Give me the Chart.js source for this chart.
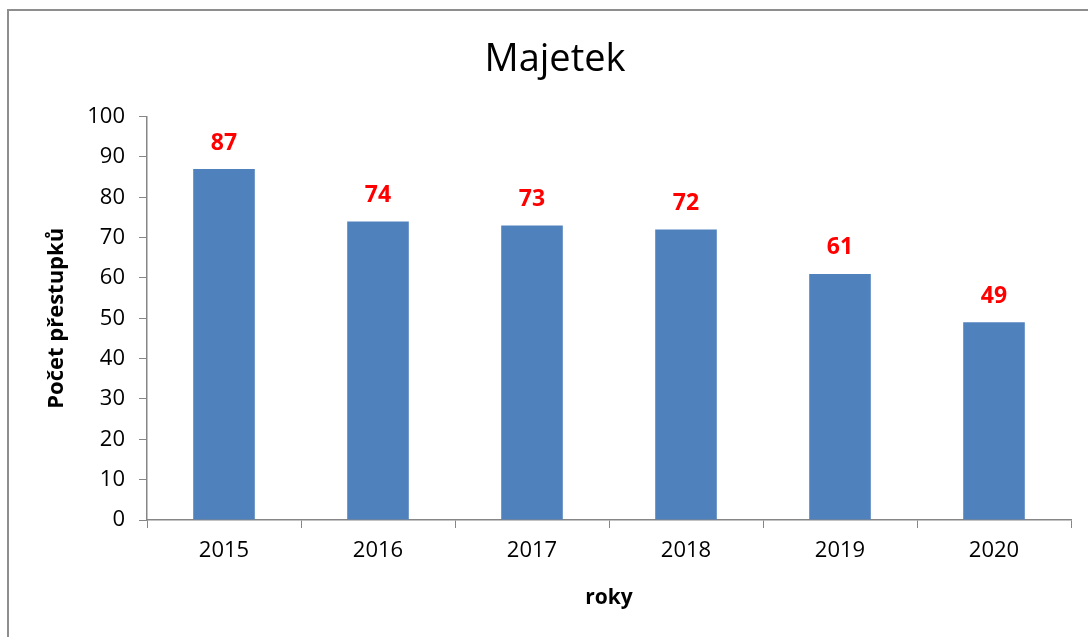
<!DOCTYPE html>
<html><head><meta charset="utf-8">
<script src="https://cdn.jsdelivr.net/npm/chart.js@4/dist/chart.umd.min.js"></script>
<style>
html,body{margin:0;padding:0;background:#fff;overflow:hidden;width:1088px;height:637px;}
#frame{position:absolute;left:7px;top:9px;width:2000px;height:2000px;border:2px solid #8e8e8e;}
#wrap{position:absolute;left:0;top:0;width:1110px;height:637px;}
</style></head><body>
<div id="frame"></div>
<div id="wrap"><canvas id="c" width="1110" height="637"></canvas></div>
<script>
const categories = ['2015','2016','2017','2018','2019','2020'];
const values = [87, 74, 73, 72, 61, 49];
const yTicks = [0,10,20,30,40,50,60,70,80,90,100];
const FONT = "'Open Sans', 'Noto Sans', sans-serif";

const labelPlugin = {
  id: 'barLabels',
  afterDatasetsDraw(chart) {
    const ctx = chart.ctx;
    const meta = chart.getDatasetMeta(0);
    ctx.save();
    ctx.fillStyle = '#ff0000';
    ctx.font = "bold 23px " + FONT;
    ctx.textAlign = 'center';
    ctx.textBaseline = 'middle';
    meta.data.forEach((bar, i) => {
      ctx.fillText(String(values[i]), bar.x, bar.y - 26);
    });
    ctx.restore();
  }
};

new Chart(document.getElementById('c'), {
  type: 'bar',
  data: {
    labels: categories,
    datasets: [{
      data: values,
      backgroundColor: '#4f81bd',
      borderWidth: 0,
      categoryPercentage: 1.0,
      barPercentage: 0.4
    }]
  },
  options: {
    responsive: false,
    animation: false,
    layout: { padding: { left: 39, right: 39, top: 0, bottom: 0 } },
    plugins: {
      legend: { display: false },
      tooltip: { enabled: false },
      title: {
        display: true,
        text: 'Majetek',
        color: '#000',
        font: { family: FONT, size: 38, weight: 'normal' },
        padding: { top: 37, bottom: 34 }
      }
    },
    scales: {
      x: {
        grid: { display: true, drawOnChartArea: false, drawTicks: true, tickLength: 8, color: '#868686', offset: true },
        border: { display: true, color: '#868686', width: 1.5 },
        ticks: { color: '#000', font: { family: FONT, size: 22 }, padding: 10 },
        title: { display: true, text: 'roky', color: '#000', font: { family: FONT, size: 21, weight: 'bold' }, padding: { top: 10, bottom: 26 } },
        afterFit(scale) { scale.height = 117; }
      },
      y: {
        min: 0, max: 100,
        afterBuildTicks(scale) { scale.ticks = yTicks.map(v => ({ value: v })); },
        grid: { display: true, drawOnChartArea: false, drawTicks: true, tickLength: 8, color: '#868686' },
        border: { display: true, color: '#868686', width: 1.5 },
        ticks: { color: '#000', font: { family: FONT, size: 22 }, padding: 14 },
        title: { display: true, text: 'Počet přestupků', color: '#000', font: { family: FONT, size: 22, weight: 'bold' }, padding: { top: 5, bottom: 0 } },
        afterFit(scale) { scale.width = 108; }
      }
    }
  },
  plugins: [labelPlugin]
});
</script>
</body></html>
